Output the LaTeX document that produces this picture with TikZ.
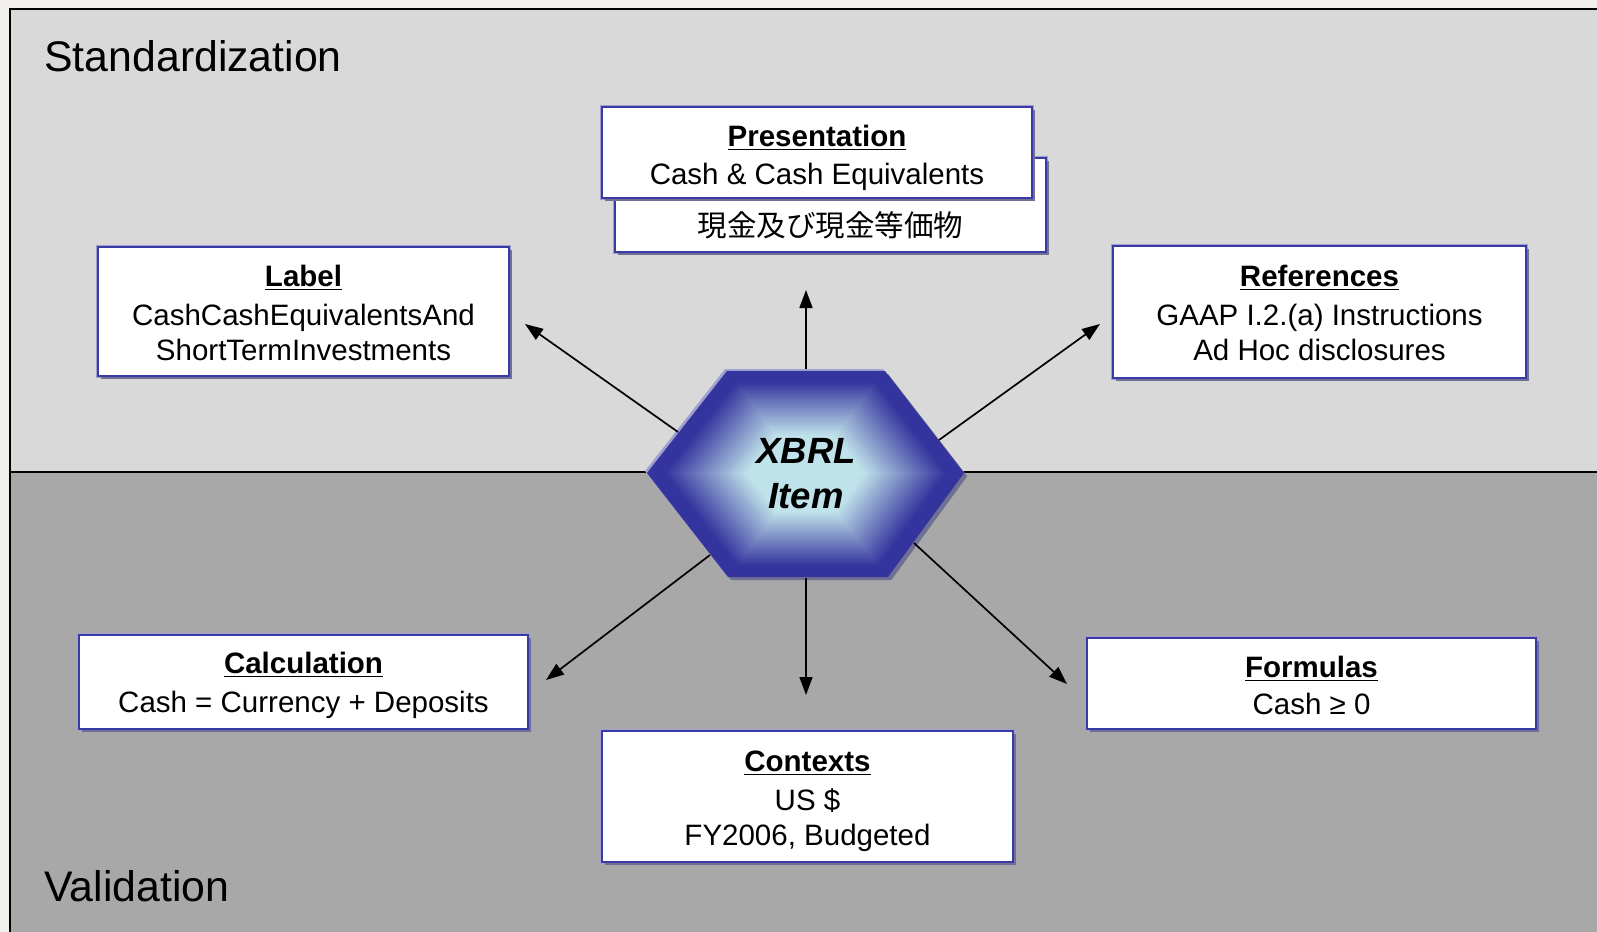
\documentclass[tikz,border=0pt]{standalone}
\usepackage{fontspec}
\setmainfont{Liberation Sans}
\newfontfamily\jpfont{Noto Sans CJK JP}
\usetikzlibrary{shadows, arrows.meta}

\definecolor{topgray}{RGB}{217,217,217}
\definecolor{botgray}{RGB}{168,168,168}
\definecolor{outside}{RGB}{242,240,236}
\definecolor{boxblue}{RGB}{58,58,166}
\definecolor{halo}{RGB}{160,160,208}
\definecolor{shadowc}{RGB}{112,112,148}
\definecolor{hexin}{RGB}{192,226,234}
\definecolor{hexout}{RGB}{52,52,158}

\newcommand\boxfont{\fontsize{14.75}{17.75}\selectfont}
\newcommand\titlefont{\fontsize{21.4}{25}\selectfont}
\newcommand\hexfont{\fontsize{18.25}{22.5}\selectfont\bfseries\itshape}
\newcommand\btitle[1]{\textbf{\underline{#1}}\\[1.75pt]}
% box text, lowered by #1 without changing its extent
\newcommand\bt[2][2.5pt]{\raisebox{-#1}[\height][\depth]{\begin{tabular}{@{}c@{}}#2\end{tabular}}}
\def\hexpath{(647,473) -- (727,371) -- (885,371) -- (964,473) -- (888,577) -- (728,577) -- cycle}

\begin{document}
\begin{tikzpicture}[x=0.5pt, y=-0.5pt,
  box/.style={preaction={draw=halo, line width=2.2pt},
              drop shadow={shadow xshift=1.6pt, shadow yshift=-1.6pt, fill=shadowc, opacity=1},
              draw=boxblue, line width=1.2pt, fill=white,
              align=center, font=\boxfont, inner sep=0pt},
  arr/.style={-{Triangle[length=9pt,width=6.5pt]}, line width=0.85pt, black},
  region/.style={font=\titlefont, anchor=base west, inner sep=0pt}]
\useasboundingbox (0,0) rectangle (1597,932);
% background
\fill[outside] (0,0) rectangle (1597,932);
\fill[topgray] (10,9) rectangle (1597,472);
\fill[botgray] (10,472) rectangle (1597,932);
\draw[line width=1.1pt] (10,932) -- (10,9) -- (1597,9);
\draw[line width=1.1pt] (10,472) -- (1597,472);

\node[region] (std) at (44,71) {Standardization};
\node[region] (val) at (44,901) {Validation};

% boxes
\node[box, minimum width=205.5pt, minimum height=64.5pt] (label) at (303.5,311.5)
  {\bt{\btitle{Label}CashCashEquivalentsAnd\\ShortTermInvestments}};
\node[box, minimum width=215.5pt, minimum height=47pt] (pback) at (830.5,205) {};
\node[font=\jpfont\fontsize{14.75}{17.75}\selectfont, inner sep=0pt] (pjp) at (830.5,225) {現金及び現金等価物};
\node[box, minimum width=215pt, minimum height=45.5pt] (pfront) at (817,152.5)
  {\bt[2.9pt]{\textbf{\underline{Presentation}}\\[1pt]Cash \& Cash Equivalents}};
\node[box, minimum width=206.5pt, minimum height=66pt] (refs) at (1319.5,312)
  {\bt[2.3pt]{\btitle{References}GAAP I.2.(a) Instructions\\Ad Hoc disclosures}};
\node[box, minimum width=224.5pt, minimum height=47pt] (calc) at (303.5,682)
  {\bt[2pt]{\btitle{Calculation}Cash = Currency + Deposits}};
\node[box, minimum width=205.5pt, minimum height=65.5pt] (ctx) at (807.5,796.5)
  {\bt{\btitle{Contexts}US \$\\FY2006, Budgeted}};
\node[box, minimum width=224.5pt, minimum height=45.5pt] (form) at (1311.5,683.5)
  {\bt[2.6pt]{\textbf{\underline{Formulas}}\\[1pt]Cash ≥ 0}};

% hexagon: shadow, highlight and a shape-following gradient
\fill[halo, xshift=-1pt, yshift=1pt] \hexpath;
\fill[shadowc, xshift=1.6pt, yshift=-1.6pt] \hexpath;
\foreach \i in {0,...,44}{
  \pgfmathsetmacro\t{\i/44*0.96}
  \pgfmathsetmacro\s{1-\t}
  \pgfmathsetmacro\p{min(100,max(0,(\t-0.10)/0.52*100))}
  \fill[hexin!\p!hexout, shift={(805.5,474)}, scale=\s, shift={(-805.5,-474)}] \hexpath;
}
\node[font=\hexfont, align=center, inner sep=0pt] (hex) at (806,474) {XBRL\\Item};

% arrow ends
\coordinate (hL) at (678,432);  \coordinate (tL) at (525,324);
\coordinate (hT) at (806,369);  \coordinate (tT) at (806,290);
\coordinate (hR) at (939,440);  \coordinate (tR) at (1100,324);
\coordinate (hC) at (710,555);  \coordinate (tC) at (546,680);
\coordinate (hB) at (806,578);  \coordinate (tB) at (806,695);
\coordinate (hF) at (914,543);  \coordinate (tF) at (1067,684);
\draw[arr] (hL) -- (tL);
\draw[arr] (hT) -- (tT);
\draw[arr] (hR) -- (tR);
\draw[arr] (hC) -- (tC);
\draw[arr] (hB) -- (tB);
\draw[arr] (hF) -- (tF);
\end{tikzpicture}
\end{document}
